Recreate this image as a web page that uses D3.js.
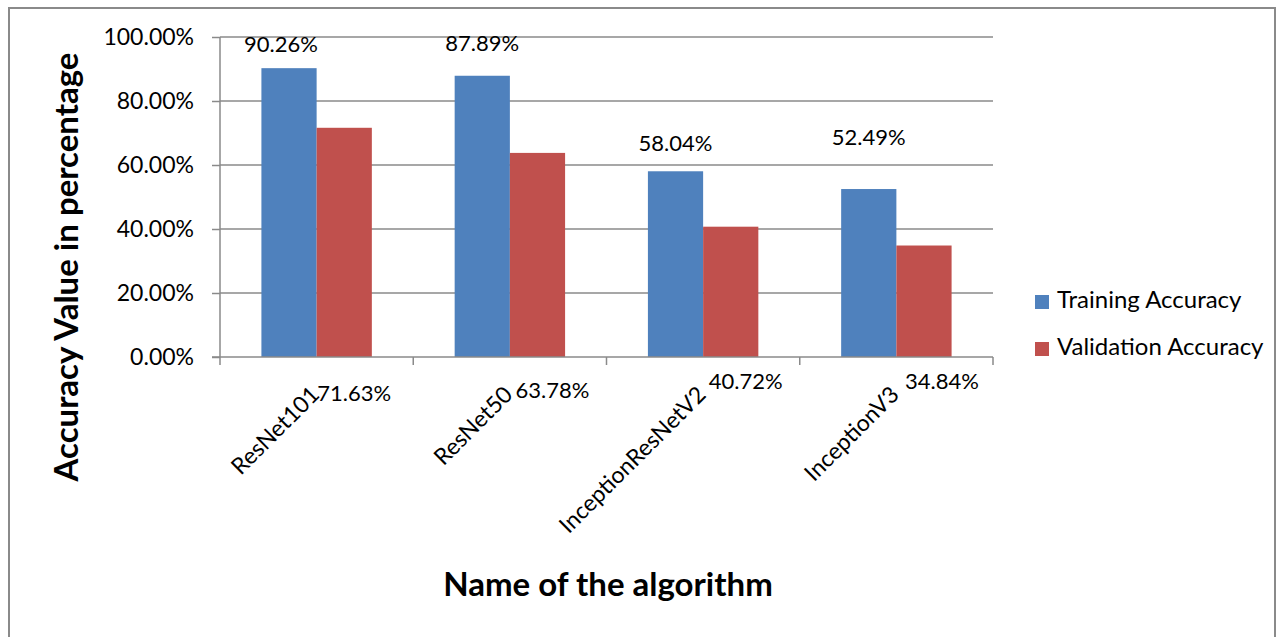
<!DOCTYPE html>
<meta charset="utf-8">
<script src="https://d3js.org/d3.v7.min.js"></script>
<style>
  body { margin: 0; background: #fff; }
  text { font-family: "Lato", "Open Sans", sans-serif; fill: #000; }
</style>
<div id="chart"></div>
<script>
  // data
  const algorithms = ["ResNet101", "ResNet50", "InceptionResNetV2", "InceptionV3"]
  const trainingAcc = [0.9026, 0.8789, 0.5804, 0.5249]
  const validationAcc = [0.7163, 0.6378, 0.4072, 0.3484]
  const seriesNames = ["Training Accuracy", "Validation Accuracy"]
  const yTicks = [0, 0.2, 0.4, 0.6, 0.8, 1.0]

  // the labels were dragged around by hand in the original, these are the nudges (px)
  const trainLabelNudge = [[-8, -22], [0, -30], [0, -26], [0, -50]]
  const validLabelNudge = [[10, 38], [15, 35], [15, 26], [18, 26]]

  const colors = ["#4F81BD", "#C0504D"]
  const gridColor = "#8a8a8a"

  const W = 1278, H = 637
  const plot = { left: 220, right: 993, top: 37, bottom: 357 }

  const svg = d3.select("#chart").append("svg")
    .attr("width", W).attr("height", H)

  // outer frame of the chart
  svg.append("rect")
    .attr("x", 9).attr("y", 8)
    .attr("width", 1266).attr("height", 660)
    .attr("fill", "white")
    .attr("stroke", gridColor).attr("stroke-width", 2)

  const y = d3.scaleLinear().domain([0, 1]).range([plot.bottom, plot.top])
  const x = d3.scaleBand().domain(algorithms).range([plot.left, plot.right])
  // bar width 55, gap 150% of it
  const xs = d3.scaleBand().domain([0, 1])
    .range([0, x.bandwidth()]).paddingOuter(0.75).paddingInner(0)

  // gridlines
  svg.append("g")
    .selectAll("line")
    .data(yTicks.filter(d => d > 0))
    .join("line")
    .attr("x1", plot.left).attr("x2", plot.right)
    .attr("y1", d => y(d)).attr("y2", d => y(d))
    .attr("stroke", gridColor).attr("stroke-width", 1.5)

  // y axis
  const yAxis = svg.append("g")
    .attr("transform", `translate(${plot.left},0)`)
    .call(d3.axisLeft(y).tickValues(yTicks).tickFormat(d3.format(".2%")).tickSize(8).tickPadding(18))
  yAxis.select(".domain").attr("stroke", gridColor).attr("stroke-width", 1.5).attr("d", `M0,${plot.top}V${plot.bottom}`)
  yAxis.selectAll(".tick line").attr("stroke", gridColor).attr("stroke-width", 1.5)
  yAxis.selectAll(".tick text")
    .style("font-size", "23px")
    .style("font-family", "Lato, sans-serif")
    .attr("fill", "#000")

  // bars
  const groups = svg.append("g")
    .selectAll("g")
    .data(algorithms)
    .join("g")
    .attr("transform", d => `translate(${x(d)},0)`)

  groups.selectAll("rect")
    .data((d, i) => [trainingAcc[i], validationAcc[i]])
    .join("rect")
    .attr("x", (d, j) => xs(j))
    .attr("width", xs.bandwidth())
    .attr("y", d => y(d))
    .attr("height", d => y(0) - y(d))
    .attr("fill", (d, j) => colors[j])

  // x axis (drawn over the bar feet)
  const xAxis = svg.append("g").attr("transform", `translate(0,${plot.bottom})`)
  xAxis.append("line")
    .attr("x1", plot.left - 8).attr("x2", plot.right)
    .attr("stroke", gridColor).attr("stroke-width", 1.5)
  const bounds = algorithms.map(d => x(d)).concat([x(algorithms[algorithms.length - 1]) + x.bandwidth()])
  xAxis.selectAll(".xtick")
    .data(bounds)
    .join("line")
    .attr("class", "xtick")
    .attr("x1", d => d).attr("x2", d => d)
    .attr("y1", 0).attr("y2", 8)
    .attr("stroke", gridColor).attr("stroke-width", 1.5)

  // category names, rotated
  svg.append("g")
    .selectAll("text")
    .data(algorithms)
    .join("text")
    .attr("transform", d => `translate(${x(d) + x.bandwidth() / 2},392) rotate(-45)`)
    .attr("text-anchor", "end")
    .attr("dominant-baseline", "middle")
    .style("font-size", "23px")
    .text(d => d)

  const fmt = d3.format(".2%")

  // training value labels
  svg.append("g")
    .selectAll("text")
    .data(trainingAcc)
    .join("text")
    .attr("x", (d, i) => x(algorithms[i]) + xs(0) + xs.bandwidth() / 2 + trainLabelNudge[i][0])
    .attr("y", (d, i) => y(d) + trainLabelNudge[i][1])
    .attr("text-anchor", "middle")
    .attr("dominant-baseline", "middle")
    .style("font-size", "22px")
    .text(d => fmt(d))

  // validation value labels (sit below the axis in the original)
  svg.append("g")
    .selectAll("text")
    .data(validationAcc)
    .join("text")
    .attr("x", (d, i) => x(algorithms[i]) + xs(1) + xs.bandwidth() / 2 + validLabelNudge[i][0])
    .attr("y", (d, i) => y(0) + validLabelNudge[i][1])
    .attr("text-anchor", "middle")
    .attr("dominant-baseline", "middle")
    .style("font-size", "22px")
    .text(d => fmt(d))

  // legend
  const legend = svg.append("g").attr("transform", "translate(1035,295)")
  seriesNames.forEach((name, i) => {
    legend.append("rect")
      .attr("x", 0).attr("y", i * 47)
      .attr("width", 14).attr("height", 14)
      .attr("fill", colors[i])
    legend.append("text")
      .attr("x", 22).attr("y", i * 47 + 7)
      .attr("dominant-baseline", "middle")
      .style("font-size", "24px")
      .text(name)
  })

  // axis titles
  svg.append("text")
    .attr("transform", "translate(70,267) rotate(-90)")
    .attr("text-anchor", "middle")
    .attr("dominant-baseline", "middle")
    .style("font-size", "33px")
    .style("font-weight", "bold")
    .text("Accuracy Value in percentage")

  svg.append("text")
    .attr("x", 608).attr("y", 588)
    .attr("text-anchor", "middle")
    .attr("dominant-baseline", "middle")
    .style("font-size", "33px")
    .style("font-weight", "bold")
    .text("Name of the algorithm")
</script>
